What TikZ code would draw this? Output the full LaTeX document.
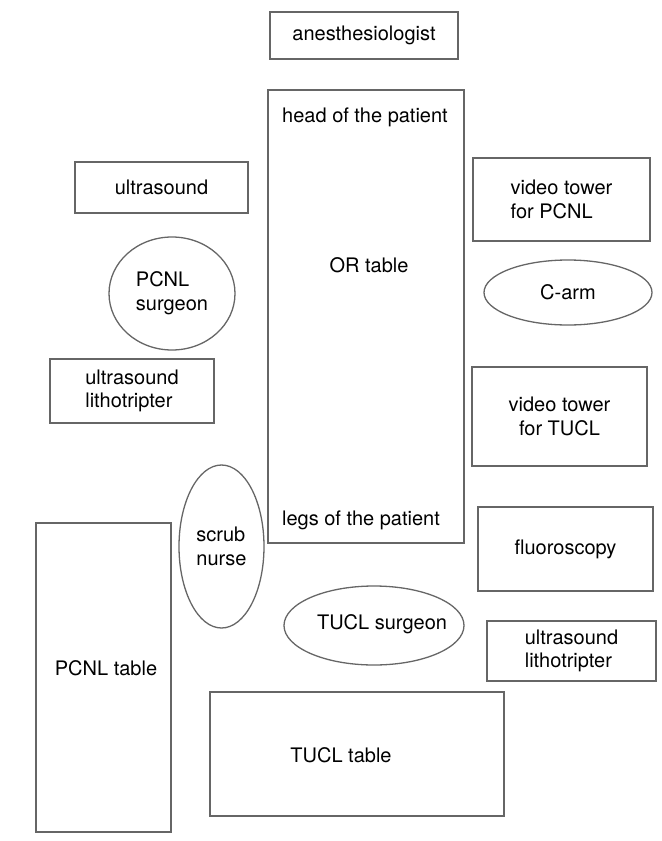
\documentclass[tikz,border=0pt]{standalone}
\usepackage{fontspec}
\setmainfont{TeX Gyre Heros}
\usetikzlibrary{shapes.geometric,positioning}

\definecolor{linegray}{gray}{0.4}

\tikzset{
    room/.style = {font=\fontsize{10}{11.8}\selectfont, align=left},
    box/.style = {draw=linegray, line width=0.65pt, inner sep=0pt, align=left},
    oval/.style = {ellipse, draw=linegray, line width=0.65pt, inner sep=0pt, align=left}
}

\begin{document}
\begin{tikzpicture}[x=0.5pt, y=-0.5pt, room]
    \useasboundingbox (0,0) rectangle (662,841);

    % top and OR table
    \node [box, minimum width=94pt, minimum height=23.5pt] (anesth) at (364,35.5) {anesthesiologist};
    \node [box, minimum width=98pt, minimum height=226.5pt] (ortable) at (366,316.5) {};
    \node (head) at (365,117) {head of the patient};
    \node (ortext) at (369,265) {OR table};
    \node (legs) at (361,520) {legs of the patient};

    % left side
    \node [box, minimum width=86.5pt, minimum height=25.5pt] (us) at (161.5,187.5) {ultrasound};
    \node [oval, minimum width=63pt, minimum height=56.5pt] (pcnlsurg) at (172,293.5) {PCNL\\surgeon};
    \node [box, minimum width=82pt, minimum height=32pt] (uslithoL) at (132,391) {ultrasound\\lithotripter};
    \node [oval, minimum width=42.5pt, minimum height=81.5pt] (scrub) at (221.5,546.5) {scrub\\nurse};
    \node [box, minimum width=67.5pt, minimum height=154.5pt] (pcnltable) at (103.5,677.5) {};
    \node (pcnltext) at (106,668) {PCNL table};

    % right side
    \node [box, minimum width=88.5pt, minimum height=41.5pt] (vtpcnl) at (561.5,199.5) {video tower\\for PCNL};
    \node [oval, minimum width=84pt, minimum height=32.5pt] (carm) at (568,292.5) {C-arm};
    \node [box, minimum width=87.5pt, minimum height=49.5pt, align=center] (vttucl) at (559.5,416.5) {video tower\\for TUCL};
    \node [box, minimum width=87.5pt, minimum height=42pt] (fluoro) at (565.5,549) {fluoroscopy};
    \node [box, minimum width=84.5pt, minimum height=30pt] (uslithoR) at (571.5,651) {ultrasound\\lithotripter};

    % bottom
    \node [oval, minimum width=90pt, minimum height=39.5pt] (tuclsurg) at (374,625.5) {};
    \node (tuclsurgtext) at (382,624) {TUCL surgeon};
    \node [box, minimum width=147pt, minimum height=62pt] (tucltable) at (357,754) {};
    \node (tucltext) at (341,755) {TUCL table};
\end{tikzpicture}
\end{document}
